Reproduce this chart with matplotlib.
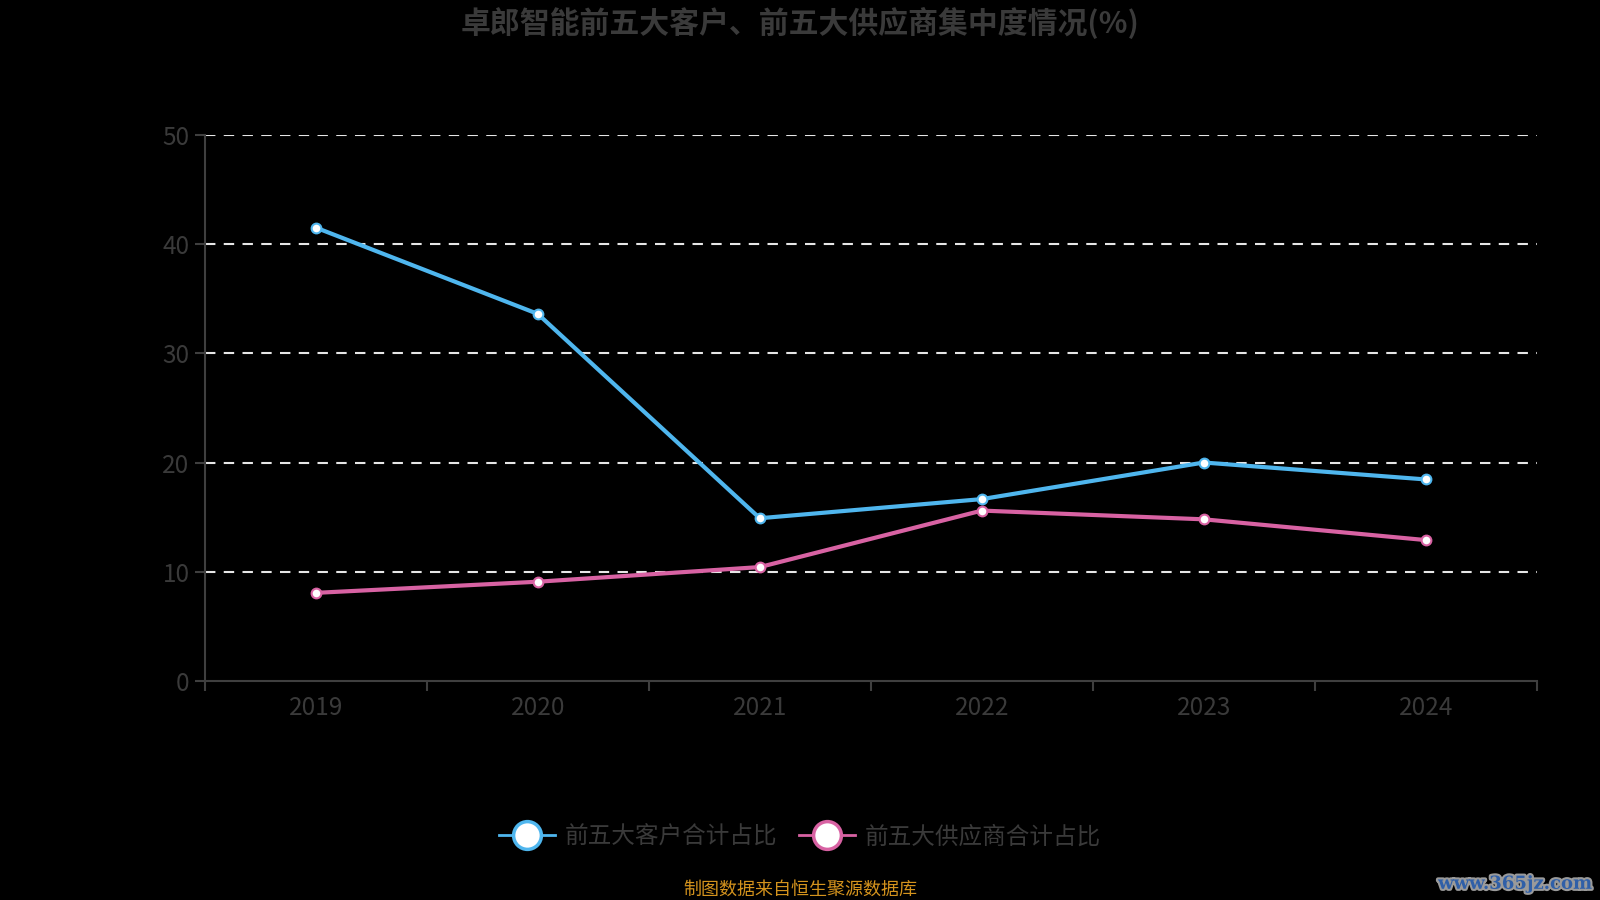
import matplotlib
matplotlib.use("Agg")
import matplotlib.pyplot as plt
import matplotlib.patheffects as pe
from matplotlib.lines import Line2D
import numpy as np

plt.rcParams['font.family'] = ['Noto Sans CJK SC', 'DejaVu Sans']

title = "卓郎智能前五大客户、前五大供应商集中度情况(%)"
years = ["2019", "2020", "2021", "2022", "2023", "2024"]
customers = [41.5, 33.6, 14.9, 16.65, 20.0, 18.45]
suppliers = [8.07, 9.09, 10.43, 15.6, 14.8, 12.9]
series_names = ["前五大客户合计占比", "前五大供应商合计占比"]
yticks = [0, 10, 20, 30, 40, 50]
source = "制图数据来自恒生聚源数据库"
watermark = "www.365jz.com"

blue = "#4FB6EE"
pink = "#D862A3"
axis_col = "#3f3f3f"
text_col = "#3a3a3a"

fig = plt.figure(figsize=(16, 9), dpi=100, facecolor="black")
ax = fig.add_axes([0.128, 0.2433, 0.8325, 0.607])
ax.set_facecolor("black")

x = np.arange(len(years))
ax.plot(x, customers, color=blue, lw=3, marker="o", ms=7, mfc="white",
        mec=blue, mew=1.5, zorder=4)
ax.plot(x, suppliers, color=pink, lw=3, marker="o", ms=7, mfc="white",
        mec=pink, mew=1.5, zorder=4)

ax.set_xlim(-0.5, len(years) - 0.5)
ax.set_ylim(0, 50)
ax.set_yticks(yticks)
ax.set_yticklabels([str(v) for v in yticks])
ax.set_xticks(x)
ax.set_xticklabels(years)
ax.set_xticks(np.arange(-0.5, len(years), 1.0), minor=True)

for v in yticks[1:]:
    ax.axhline(v, color="#e6e6e6", lw=1.5, ls=(0, (5, 4)), zorder=2)

for s in ["top", "right"]:
    ax.spines[s].set_visible(False)
for s in ["left", "bottom"]:
    ax.spines[s].set_color(axis_col)
    ax.spines[s].set_linewidth(1.5)

ax.tick_params(axis="x", which="major", length=0, pad=10, labelsize=17.5,
               labelcolor=text_col)
ax.tick_params(axis="x", which="minor", length=7, width=1.5, color=axis_col)
ax.tick_params(axis="y", length=7, width=1.5, color=axis_col, labelsize=17.5,
               labelcolor=text_col, pad=4)

fig.text(0.5, 0.974, title, ha="center", va="center", fontsize=21.5,
         fontweight="bold", color=text_col)

handles = [
    Line2D([0], [0], color=blue, lw=2, marker="o", ms=20, mfc="white",
           mec=blue, mew=2.5),
    Line2D([0], [0], color=pink, lw=2, marker="o", ms=20, mfc="white",
           mec=pink, mew=2.5),
]
leg = fig.legend(handles, series_names, loc="center", bbox_to_anchor=(0.5, 0.07),
                 ncol=2, frameon=False, fontsize=17, handlelength=2.4,
                 columnspacing=0.9, handletextpad=0.4)
for t in leg.get_texts():
    t.set_color(text_col)

fig.text(0.5, 0.012, source, ha="center", va="center", fontsize=13,
         color="#D4931D")

fig.text(0.995, 0.018, watermark, ha="right", va="center", fontsize=13,
         fontweight="bold", color="#2f5fa8", family=["DejaVu Serif"],
         path_effects=[pe.withStroke(linewidth=3, foreground="#9a9a9a")])

fig.savefig("out.png", dpi=100, facecolor="black")
